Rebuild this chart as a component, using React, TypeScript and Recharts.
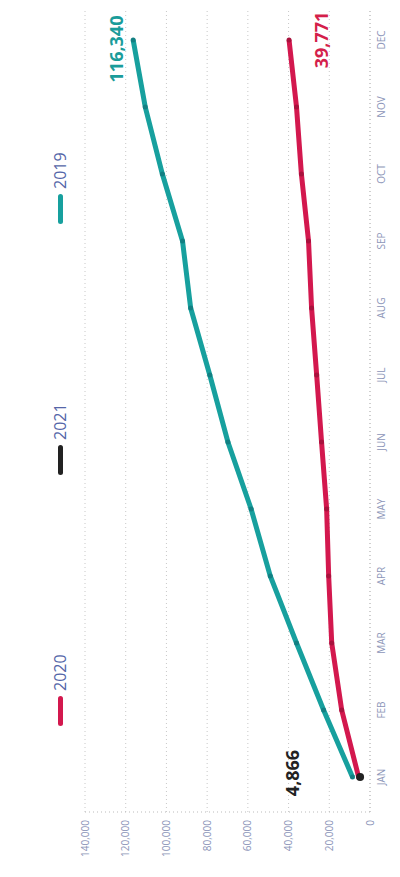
import { LineChart, Line, XAxis, YAxis, CartesianGrid, LabelList } from "recharts"

const months = ["JAN", "FEB", "MAR", "APR", "MAY", "JUN", "JUL", "AUG", "SEP", "OCT", "NOV", "DEC"]
const sales2019 = [8600, 22800, 36100, 49000, 58400, 69800, 78700, 88100, 92100, 102000, 110400, 116340]
const sales2020 = [5600, 13900, 18800, 20300, 21300, 23800, 26200, 28700, 30200, 33700, 36100, 39771]
const sales2021 = [4866, null, null, null, null, null, null, null, null, null, null, null]
const yTicks = [0, 20000, 40000, 60000, 80000, 100000, 120000, 140000]
const legendOrder = ["2020", "2021", "2019"]

const colors: Record<string, string> = {
  "2019": "#17a09e",
  "2020": "#d3184e",
  "2021": "#222222",
}

const data = months.map((m, i) => ({
  month: m,
  y2019: sales2019[i],
  y2020: sales2020[i],
  y2021: sales2021[i],
}))

const fmt = (v: number) => v.toLocaleString("en-US")
const FONT = "'Open Sans', Roboto, sans-serif"

// only the first / last value of each year gets a label
const makeLabel = (idx: number, color: string, dx: number, dy: number) => (props: any) => {
  const { x, y, value, index } = props
  if (index !== idx || value == null) return null
  return (
    <text
      x={x + dx}
      y={y + dy}
      fill={color}
      fontSize={18}
      fontWeight={700}
      fontFamily={FONT}
      textAnchor="middle"
      dominantBaseline="central"
    >
      {fmt(value)}
    </text>
  )
}

function LegendRow() {
  return (
    <div
      style={{
        position: "absolute",
        top: 49,
        left: 0,
        width: 877,
        display: "flex",
        justifyContent: "center",
        gap: 178,
        fontFamily: FONT,
        fontSize: 16,
        color: "#5566a8",
      }}
    >
      {legendOrder.map((name) => (
        <div key={name} style={{ display: "flex", alignItems: "center", width: 73 }}>
          <span
            style={{
              display: "inline-block",
              width: 30,
              height: 5,
              borderRadius: 3,
              background: colors[name],
              marginRight: 5,
            }}
          />
          <span>{name}</span>
        </div>
      ))}
    </div>
  )
}

export default function App() {
  return (
    <div style={{ position: "absolute", top: 0, left: 0, width: 400, height: 877, overflow: "hidden", background: "#fff" }}>
      <div
        style={{
          position: "absolute",
          top: 0,
          left: 0,
          width: 877,
          height: 400,
          transformOrigin: "0 0",
          transform: "translateY(877px) rotate(-90deg)",
        }}
      >
        <LegendRow />
        <LineChart width={877} height={400} data={data} margin={{ top: 85, right: 10, left: 5, bottom: 0 }}>
          <CartesianGrid vertical={false} stroke="#c8c8c8" strokeDasharray="1 3" />
          <XAxis
            dataKey="month"
            height={30}
            padding={{ left: 35, right: 30 }}
            tickLine={false}
            axisLine={{ stroke: "#bbbbbb", strokeDasharray: "1 3" }}
            tick={{ fontSize: 10, fill: "#8c95b8", fontFamily: FONT }}
          />
          <YAxis
            width={60}
            domain={[0, 140000]}
            ticks={yTicks}
            tickFormatter={fmt}
            tickLine={false}
            axisLine={{ stroke: "#bbbbbb", strokeDasharray: "1 3" }}
            tick={{ fontSize: 10, fill: "#8c95b8", fontFamily: FONT }}
          />
          <Line
            dataKey="y2019"
            stroke={colors["2019"]}
            strokeWidth={5}
            dot={{ r: 2.5, fill: "#127f82", stroke: "none" }}
            isAnimationActive={false}
          >
            <LabelList dataKey="y2019" content={makeLabel(11, "#1a9c9a", -9, -17)} />
          </Line>
          <Line
            dataKey="y2020"
            stroke={colors["2020"]}
            strokeWidth={5}
            dot={{ r: 2.5, fill: "#a8123d", stroke: "none" }}
            isAnimationActive={false}
          >
            <LabelList dataKey="y2020" content={makeLabel(11, "#d41f4b", 0, 32)} />
          </Line>
          <Line
            dataKey="y2021"
            stroke={colors["2021"]}
            strokeWidth={5}
            dot={{ r: 4, fill: "#222", stroke: "none" }}
            isAnimationActive={false}
          >
            <LabelList dataKey="y2021" content={makeLabel(0, "#222", 4, -68)} />
          </Line>
        </LineChart>
      </div>
    </div>
  )
}
